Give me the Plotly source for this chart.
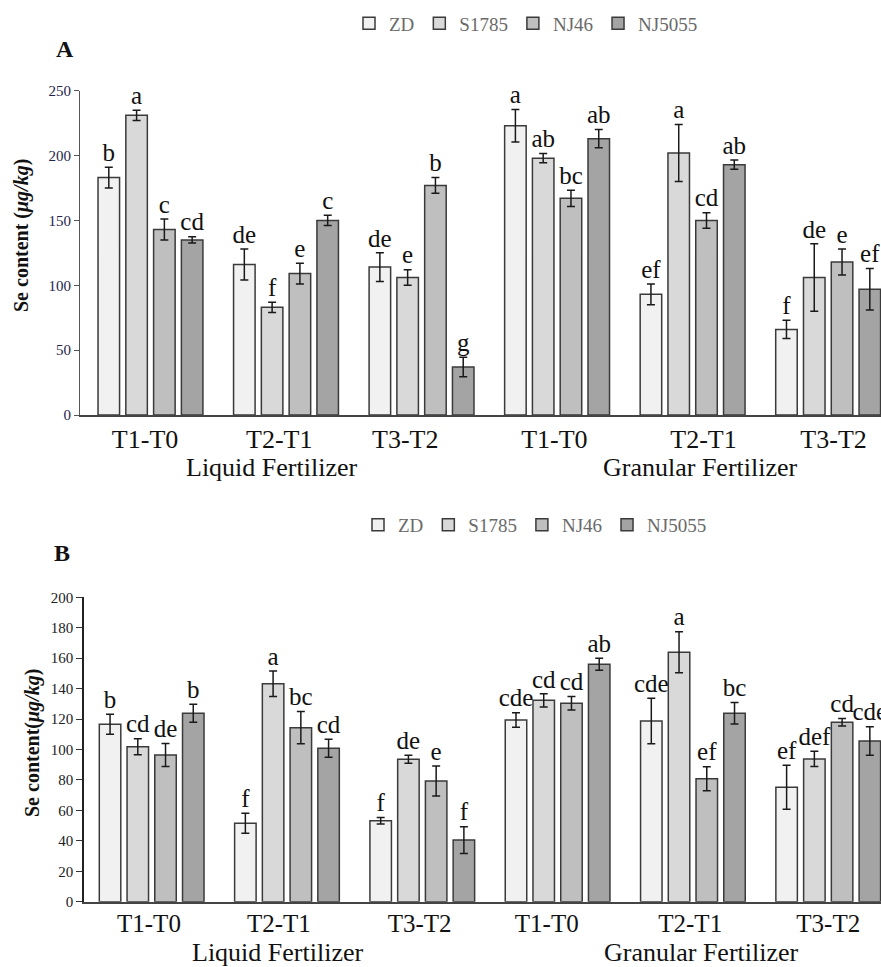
import plotly.graph_objects as go

# ---------------- data ----------------
varieties = ["ZD", "S1785", "NJ46", "NJ5055"]
periods = ["T1-T0", "T2-T1", "T3-T2", "T1-T0", "T2-T1", "T3-T2"]
fertilizers = ["Liquid Fertilizer", "Granular Fertilizer"]

# Panel A values (µg/kg), one list per variety, six periods each
A_ZD = [183, 116, 114, 223, 93, 66]
A_S1785 = [231, 83, 106, 198, 202, 106]
A_NJ46 = [143, 109, 177, 167, 150, 118]
A_NJ5055 = [135, 150, 37, 213, 193, 97]
A_ZD_err = [8, 12, 11, 12.5, 8, 7]
A_S1785_err = [4, 4, 6, 3.5, 22, 26]
A_NJ46_err = [8, 8, 6, 6.3, 6, 10]
A_NJ5055_err = [2.5, 4, 7.5, 7, 3.5, 16]
A_ZD_sig = ["b", "de", "de", "a", "ef", "f"]
A_S1785_sig = ["a", "f", "e", "ab", "a", "de"]
A_NJ46_sig = ["c", "e", "b", "bc", "cd", "e"]
A_NJ5055_sig = ["cd", "c", "g", "ab", "ab", "ef"]

# Panel B values (µg/kg)
B_ZD = [116.6, 51.5, 53.2, 119.4, 118.7, 75.2]
B_S1785 = [101.8, 143.2, 93.6, 132.3, 163.9, 93.8]
B_NJ46 = [96.4, 114.3, 79.3, 130.4, 80.8, 117.9]
B_NJ5055 = [123.8, 100.8, 40.5, 156.0, 123.8, 105.6]
B_ZD_err = [6.6, 6.6, 2.2, 4.8, 15, 14.5]
B_S1785_err = [5.3, 8.3, 2.6, 4.3, 13.5, 5]
B_NJ46_err = [7.5, 10.6, 9.9, 4.5, 7.9, 2.5]
B_NJ5055_err = [5.9, 5.9, 8.8, 3.9, 7.1, 9.4]
B_ZD_sig = ["b", "f", "f", "cde", "cde", "ef"]
B_S1785_sig = ["cd", "a", "de", "cd", "a", "def"]
B_NJ46_sig = ["de", "bc", "e", "cd", "ef", "cd"]
B_NJ5055_sig = ["b", "cd", "f", "ab", "bc", "cde"]

yticks_A = [0, 50, 100, 150, 200, 250]
yticks_B = [0, 20, 40, 60, 80, 100, 120, 140, 160, 180, 200]

# ---------------- style ----------------
W, H = 881, 967
colors = ["#f1f1f1", "#d9d9d9", "#bfbfbf", "#a4a4a4"]
edge = "#3a3a3a"
SERIF = "Liberation Serif"
BARGAP = 0.18
GROUPGAP = 0.225
tick_shift_A = [-0.04, -0.05, -0.12, -0.02, 0.08, 0.04]
tick_shift_B = [-0.02, -0.06, -0.02, -0.08, -0.02, 0.0]

def px_x(p):
    return p / W

def px_y(p):
    return (H - p) / H

fig = go.Figure()
xs = list(range(len(periods)))
slot = (1 - BARGAP) / len(varieties)

panels = [
    ("x", "y", "legend",
     [A_ZD, A_S1785, A_NJ46, A_NJ5055],
     [A_ZD_err, A_S1785_err, A_NJ46_err, A_NJ5055_err],
     [A_ZD_sig, A_S1785_sig, A_NJ46_sig, A_NJ5055_sig]),
    ("x2", "y2", "legend2",
     [B_ZD, B_S1785, B_NJ46, B_NJ5055],
     [B_ZD_err, B_S1785_err, B_NJ46_err, B_NJ5055_err],
     [B_ZD_sig, B_S1785_sig, B_NJ46_sig, B_NJ5055_sig]),
]

for xa, ya, lg, vals, errs, sigs in panels:
    for i, name in enumerate(varieties):
        fig.add_trace(go.Bar(
            x=xs, y=vals[i], name=name, xaxis=xa, yaxis=ya, legend=lg,
            marker=dict(color=colors[i], line=dict(color=edge, width=1.5)),
            error_y=dict(type="data", array=errs[i], color="#1a1a1a",
                         thickness=1.5, width=4),
        ))
    for i, name in enumerate(varieties):
        fig.add_trace(go.Scatter(
            x=[g + (i - 1.5) * slot for g in xs],
            y=[v + e for v, e in zip(vals[i], errs[i])],
            text=sigs[i], mode="text", textposition="top center",
            textfont=dict(family=SERIF, size=25, color="#111111"),
            xaxis=xa, yaxis=ya, showlegend=False, cliponaxis=False,
            hoverinfo="skip",
        ))

axis_common = dict(showgrid=False, zeroline=False, showline=True, automargin=False)

fig.update_layout(
    width=W, height=H,
    font=dict(family=SERIF, color="#111111"),
    margin=dict(l=0, r=0, t=0, b=0, pad=0, autoexpand=False),
    paper_bgcolor="white", plot_bgcolor="white",
    barmode="group", bargap=BARGAP, bargroupgap=GROUPGAP,
    xaxis=dict(axis_common, domain=[px_x(80), 1], range=[-0.52, 5.39],
               anchor="y", tickmode="array",
               tickvals=[g + s for g, s in zip(xs, tick_shift_A)],
               ticktext=periods, ticks="", linecolor="#444444", linewidth=2,
               tickfont=dict(family=SERIF, size=26, color="#111111"),
               ticklabelstandoff=0),
    yaxis=dict(axis_common, domain=[px_y(415), px_y(90.7)], range=[0, 250],
               anchor="x", tickmode="array", tickvals=yticks_A,
               ticks="outside", ticklen=5, tickcolor="#555555",
               linecolor="#555555", linewidth=1.2,
               tickfont=dict(family=SERIF, size=15, color="#23234a")),
    xaxis2=dict(axis_common, domain=[px_x(84), 1], range=[-0.50, 5.39],
                anchor="y2", tickmode="array",
                tickvals=[g + s for g, s in zip(xs, tick_shift_B)],
                ticktext=periods, ticks="", linecolor="#444444", linewidth=2,
                tickfont=dict(family=SERIF, size=25, color="#111111"),
                ticklabelstandoff=-2),
    yaxis2=dict(axis_common, domain=[px_y(901.7), px_y(597.3)], range=[0, 200],
                anchor="x2", tickmode="array", tickvals=yticks_B,
                ticks="outside", ticklen=6, tickcolor="#333333",
                linecolor="#222222", linewidth=1.5,
                tickfont=dict(family=SERIF, size=15, color="#222222")),
    legend=dict(orientation="h", x=px_x(526), y=px_y(23.5),
                xanchor="center", yanchor="middle",
                font=dict(family=SERIF, size=19, color="#6a6a6a"),
                bgcolor="rgba(0,0,0,0)", traceorder="normal"),
    legend2=dict(orientation="h", x=px_x(535), y=px_y(525),
                 xanchor="center", yanchor="middle",
                 font=dict(family=SERIF, size=19, color="#6a6a6a"),
                 bgcolor="rgba(0,0,0,0)", traceorder="normal"),
    showlegend=True,
)

def note(text, x, y, size, angle=0, xref="paper"):
    return dict(text=text, x=x, y=y, xref=xref, yref="paper",
                xanchor="center", yanchor="middle", textangle=angle,
                showarrow=False, font=dict(family=SERIF, size=size, color="#111111"))

annotations = [
    note("<b>A</b>", px_x(65), px_y(49.5), 24),
    note("<b>B</b>", px_x(62), px_y(553), 24),
    note("<b>Se content (<i>μg/kg</i>)</b>", px_x(21), px_y(236), 20, -90),
    note("<b>Se content(<i>μg/kg</i>)</b>", px_x(32), px_y(743), 20, -90),
]
# group (fertilizer) labels under each panel
for xref, ypix, centers in [("x", 467, [0.89, 4.06]), ("x2", 952, [0.93, 4.06])]:
    for c, lab in zip(centers, fertilizers):
        annotations.append(note(lab, c, px_y(ypix), 26, xref=xref))
fig.update_layout(annotations=annotations)

fig.write_html("out.html", config={"displayModeBar": False},
               post_script="document.body.style.margin='0';document.body.style.padding='0';")
